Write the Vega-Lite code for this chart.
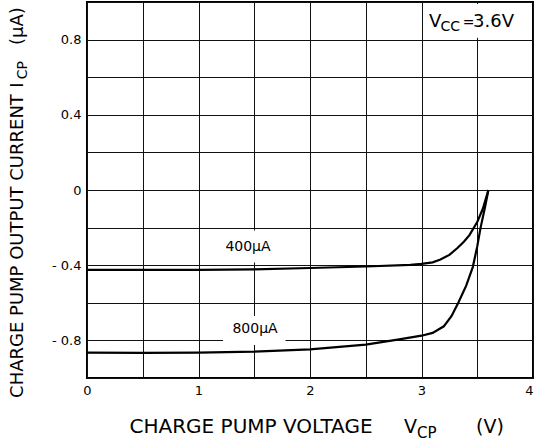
{
  "$schema": "https://vega.github.io/schema/vega-lite/v6.json",
  "width": 446,
  "height": 376,
  "autosize": {"type": "none"},
  "padding": {"left": 87, "top": 2, "right": 3, "bottom": 67},
  "background": "white",
  "config": {
    "view": {"stroke": "black", "strokeWidth": 2},
    "font": "DejaVu Sans",
    "text": {"font": "DejaVu Sans", "color": "black"}
  },
  "encoding": {
    "x": {
      "field": "v", "type": "quantitative",
      "scale": {"domain": [0, 4], "nice": false, "zero": false},
      "axis": {
        "values": [0, 0.5, 1, 1.5, 2, 2.5, 3, 3.5, 4],
        "labelExpr": "datum.value % 1 === 0 ? format(datum.value, 'd') : ''",
        "labelAlign": {"condition": {"test": "datum.value === 4", "value": "right"}, "value": "center"},
        "grid": true, "gridColor": "#111", "gridWidth": 1, "gridOpacity": 1,
        "domain": false, "ticks": false, "labelPadding": 6, "labelFontSize": 13,
        "labelColor": "black", "labelFlush": false, "labelOverlap": false, "title": null
      }
    },
    "y": {
      "field": "i", "type": "quantitative",
      "scale": {"domain": [-1, 1], "nice": false, "zero": false},
      "axis": {
        "values": [-1, -0.8, -0.6, -0.4, -0.2, 0, 0.2, 0.4, 0.6, 0.8, 1],
        "labelExpr": "(abs(datum.value) < 0.9 && abs(round(datum.value * 10)) % 4 == 0) ? (datum.value < 0 ? '- ' + format(-datum.value, '.1f') : (datum.value == 0 ? '0' : format(datum.value, '.1f'))) : ''",
        "grid": true, "gridColor": "#111", "gridWidth": 1, "gridOpacity": 1,
        "domain": false, "ticks": false, "labelPadding": 6, "labelFontSize": 13,
        "labelColor": "black", "labelOverlap": false, "title": null
      }
    }
  },
  "layer": [
    {
      "data": {"values": [
        {"v": 1.18, "v2": 1.72, "i": -0.215, "i2": -0.385},
        {"v": 1.22, "v2": 1.78, "i": -0.67, "i2": -0.825},
        {"v": 3.02, "v2": 3.98, "i": 0.81, "i2": 0.99}
      ]},
      "mark": {"type": "rect", "color": "white"},
      "encoding": {"x2": {"field": "v2"}, "y2": {"field": "i2"}}
    },
    {
      "data": {"values": [
        {"s": "400", "v": 0, "i": -0.425}, {"s": "400", "v": 0.5, "i": -0.425},
        {"s": "400", "v": 1, "i": -0.425}, {"s": "400", "v": 1.5, "i": -0.422},
        {"s": "400", "v": 2, "i": -0.415}, {"s": "400", "v": 2.5, "i": -0.407},
        {"s": "400", "v": 2.9, "i": -0.398}, {"s": "400", "v": 3, "i": -0.393},
        {"s": "400", "v": 3.1, "i": -0.385}, {"s": "400", "v": 3.17, "i": -0.37},
        {"s": "400", "v": 3.25, "i": -0.345}, {"s": "400", "v": 3.32, "i": -0.31},
        {"s": "400", "v": 3.38, "i": -0.275}, {"s": "400", "v": 3.43, "i": -0.24},
        {"s": "400", "v": 3.5, "i": -0.17}, {"s": "400", "v": 3.55, "i": -0.1},
        {"s": "400", "v": 3.6, "i": 0},
        {"s": "800", "v": 0, "i": -0.865}, {"s": "800", "v": 0.5, "i": -0.866},
        {"s": "800", "v": 1, "i": -0.865}, {"s": "800", "v": 1.5, "i": -0.86},
        {"s": "800", "v": 2, "i": -0.848}, {"s": "800", "v": 2.5, "i": -0.822},
        {"s": "800", "v": 2.8, "i": -0.795}, {"s": "800", "v": 3, "i": -0.775},
        {"s": "800", "v": 3.1, "i": -0.76}, {"s": "800", "v": 3.2, "i": -0.725},
        {"s": "800", "v": 3.27, "i": -0.67}, {"s": "800", "v": 3.33, "i": -0.6},
        {"s": "800", "v": 3.4, "i": -0.51}, {"s": "800", "v": 3.46, "i": -0.41},
        {"s": "800", "v": 3.5, "i": -0.3}, {"s": "800", "v": 3.53, "i": -0.2},
        {"s": "800", "v": 3.57, "i": -0.09}, {"s": "800", "v": 3.6, "i": 0}
      ]},
      "mark": {"type": "line", "color": "black", "strokeWidth": 2.2},
      "encoding": {"detail": {"field": "s"}}
    },
    {
      "data": {"values": [
        {"t": "400μA", "v": 1.444, "i": -0.303},
        {"t": "800μA", "v": 1.507, "i": -0.739}
      ]},
      "mark": {"type": "text", "fontSize": 14, "align": "center", "baseline": "middle"},
      "encoding": {"text": {"field": "t"}}
    },
    {
      "data": {"values": [
        {"t": "V", "v": 3.067, "i": 0.867},
        {"t": "3.6V", "v": 3.462, "i": 0.867}
      ]},
      "mark": {"type": "text", "fontSize": 18, "align": "left", "baseline": "alphabetic"},
      "encoding": {"text": {"field": "t"}}
    },
    {
      "data": {"values": [
        {"t": "CC", "v": 3.17, "i": 0.846},
        {"t": "=", "v": 3.37, "i": 0.867}
      ]},
      "mark": {"type": "text", "fontSize": 14, "align": "left", "baseline": "alphabetic"},
      "encoding": {"text": {"field": "t"}}
    },
    {
      "data": {"values": [
        {"t": "CHARGE PUMP VOLTAGE", "v": 1.471, "i": -1.293}
      ]},
      "mark": {"type": "text", "fontSize": 20, "align": "center", "baseline": "alphabetic"},
      "encoding": {"text": {"field": "t"}}
    },
    {
      "data": {"values": [
        {"t": "V", "v": 2.843, "i": -1.293},
        {"t": "(V)", "v": 3.489, "i": -1.293}
      ]},
      "mark": {"type": "text", "fontSize": 19, "align": "left", "baseline": "alphabetic"},
      "encoding": {"text": {"field": "t"}}
    },
    {
      "data": {"values": [
        {"t": "CP", "v": 2.96, "i": -1.319}
      ]},
      "mark": {"type": "text", "fontSize": 15, "align": "left", "baseline": "alphabetic"},
      "encoding": {"text": {"field": "t"}}
    },
    {
      "data": {"values": [
        {"t": "CHARGE PUMP OUTPUT CURRENT", "v": -0.574, "i": -0.298},
        {"t": "I", "v": -0.574, "i": 0.558},
        {"t": "(μA)", "v": -0.574, "i": 0.872}
      ]},
      "mark": {"type": "text", "fontSize": 18, "angle": 270, "align": "center", "baseline": "alphabetic"},
      "encoding": {"text": {"field": "t"}}
    },
    {
      "data": {"values": [
        {"t": "CP", "v": -0.538, "i": 0.638}
      ]},
      "mark": {"type": "text", "fontSize": 14, "angle": 270, "align": "center", "baseline": "alphabetic"},
      "encoding": {"text": {"field": "t"}}
    }
  ]
}
